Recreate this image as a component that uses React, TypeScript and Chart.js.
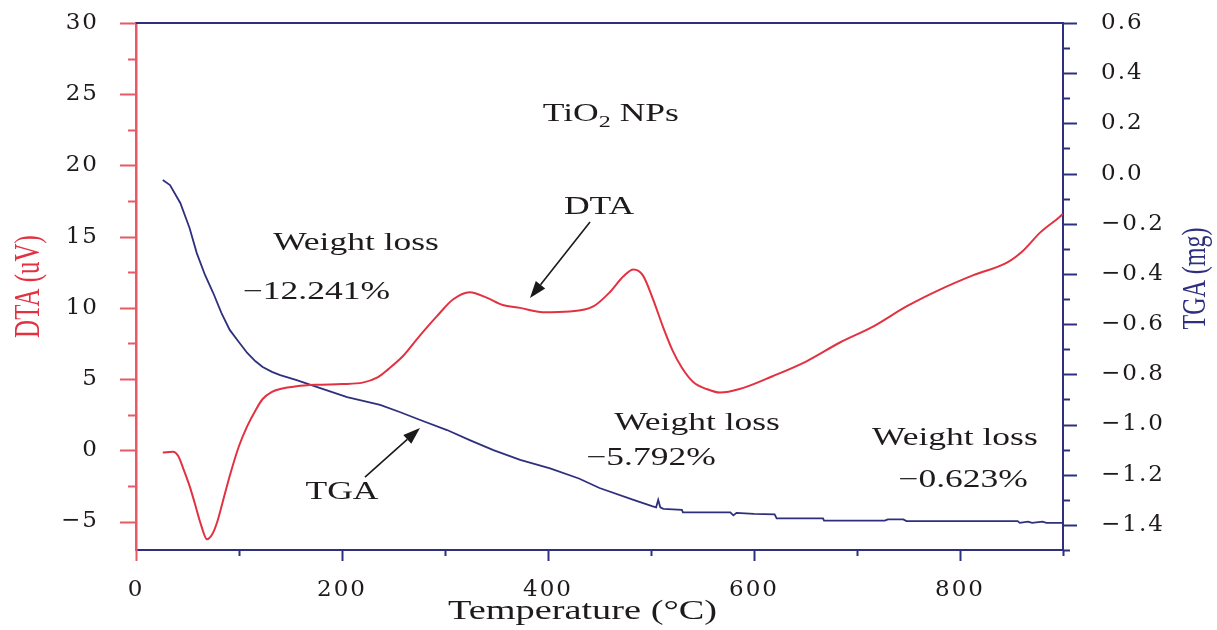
import React, { useEffect, useRef } from 'react';
import { Chart, registerables } from 'chart.js';

Chart.register(...registerables);

// ---- Data ----
const dtaTemp = [26, 36, 41, 46, 52, 57, 63, 69, 74, 79, 85, 91, 100, 108, 116, 123, 132, 140, 156, 175, 200, 220, 234, 245, 259, 275, 292, 308, 324, 341, 356, 373, 395, 421, 444, 460, 473, 483, 492, 502, 512, 521, 530, 541, 554, 567, 586, 618, 651, 683, 716, 748, 781, 813, 846, 861, 878, 897, 900];
const dtaValue = [-0.15, -0.1, -0.4, -1.3, -2.5, -3.7, -5.2, -6.25, -5.9, -5.0, -3.4, -1.8, 0.3, 1.7, 2.8, 3.6, 4.1, 4.3, 4.5, 4.6, 4.65, 4.75, 5.1, 5.7, 6.6, 8.0, 9.4, 10.6, 11.1, 10.7, 10.2, 10.0, 9.7, 9.75, 10.1, 11.1, 12.2, 12.7, 12.3, 10.6, 8.6, 7.0, 5.8, 4.8, 4.3, 4.05, 4.3, 5.2, 6.25, 7.55, 8.7, 10.1, 11.3, 12.3, 13.2, 14.0, 15.3, 16.4, 16.6];

const tgaTemp = [26, 33, 43, 52, 59, 67, 75, 83, 91, 100, 108, 116, 123, 132, 140, 156, 176, 205, 237, 256, 276, 302, 324, 347, 373, 402, 430, 450, 483, 501, 505, 507, 509, 512, 530, 531, 577, 580, 583, 600, 620, 622, 667, 668, 727, 730, 745, 748, 856, 858, 866, 870, 880, 884, 900];
const tgaValue = [-0.026, -0.046, -0.117, -0.217, -0.317, -0.404, -0.476, -0.556, -0.623, -0.672, -0.715, -0.748, -0.771, -0.79, -0.803, -0.823, -0.851, -0.891, -0.922, -0.95, -0.982, -1.022, -1.062, -1.102, -1.141, -1.175, -1.215, -1.253, -1.3, -1.325, -1.33, -1.3, -1.33, -1.336, -1.34, -1.35, -1.35, -1.362, -1.352, -1.356, -1.358, -1.374, -1.374, -1.383, -1.383, -1.378, -1.378, -1.385, -1.385, -1.392, -1.387, -1.392, -1.387, -1.392, -1.392];

// Axis ranges
const xRange = [0, 900];
const dtaRange = [-7, 30];
const tgaRange = [-1.5, 0.6];

// Annotation texts (placed in data coordinates: x = temperature, y = DTA axis)
const noteTexts = ['Weight loss', '\u221212.241%', 'Weight loss', '\u22125.792%', 'Weight loss', '\u22120.623%', 'DTA', 'TGA'];
const noteX = [213.6, 175.2, 544.7, 500, 795, 803, 449.5, 200];
const noteY = [14.55, 11.11, 1.88, -0.54, 0.86, -2.09, 17.08, -2.93];
const arrowFrom = [[440.8, 16.03], [222.3, -1.88]];
const arrowTo = [[382.5, 10.69], [275.7, 1.56]];
const sampleTitlePos = [461, 23.68];

const RED = 'rgb(226, 50, 66)';
const RED_AXIS = 'rgb(232, 88, 102)';
const NAVY = 'rgb(46, 48, 126)';
const TEXT = '#1f1b1c';
const SERIF = '"Liberation Serif", "Times New Roman", serif';
const TICK_FONT = '"DejaVu Serif", serif';
const TICK_SPACING = '2px';
const SX = 1.42;

const minus = (s: string) => s.replace('-', '\u2212');

function drawStretched(ctx: any, text: string, x: number, y: number, size: number, color: string) {
  ctx.save();
  ctx.translate(x, y);
  ctx.scale(SX, 1);
  ctx.font = `${size}px ${SERIF}`;
  ctx.fillStyle = color;
  ctx.textAlign = 'center';
  ctx.textBaseline = 'middle';
  ctx.fillText(text, 0, 0);
  ctx.restore();
}

function drawArrow(ctx: any, x1: number, y1: number, x2: number, y2: number) {
  const ang = Math.atan2(y2 - y1, x2 - x1);
  const hl = 17, hw = 6;
  const bx = x2 - hl * Math.cos(ang), by = y2 - hl * Math.sin(ang);
  ctx.save();
  ctx.strokeStyle = '#1a1a1a';
  ctx.fillStyle = '#1a1a1a';
  ctx.lineWidth = 1.6;
  ctx.beginPath();
  ctx.moveTo(x1, y1);
  ctx.lineTo(bx, by);
  ctx.stroke();
  ctx.beginPath();
  ctx.moveTo(x2, y2);
  ctx.lineTo(bx + hw * Math.sin(ang), by - hw * Math.cos(ang));
  ctx.lineTo(bx - hw * Math.sin(ang), by + hw * Math.cos(ang));
  ctx.closePath();
  ctx.fill();
  ctx.restore();
}

const zeroPad = (s: any) => { s.paddingTop = 0; s.paddingBottom = 0; s.paddingLeft = 0; s.paddingRight = 0; };

const decorPlugin = {
  id: 'decor',
  beforeLayout(chart: any) { chart.ctx.letterSpacing = TICK_SPACING; },
  beforeDraw(chart: any) { chart.ctx.letterSpacing = TICK_SPACING; },
  afterDraw(chart: any) {
    const ctx = chart.ctx;
    const { left, right, top, bottom } = chart.chartArea;
    const xs = chart.scales.x, ys = chart.scales.y, y1 = chart.scales.y1;
    ctx.save();
    ctx.letterSpacing = '0px';
    ctx.lineCap = 'butt';

    const line = (ax: number, ay: number, bx: number, by: number, color: string, w: number) => {
      ctx.strokeStyle = color; ctx.lineWidth = w;
      ctx.beginPath(); ctx.moveTo(ax, ay); ctx.lineTo(bx, by); ctx.stroke();
    };

    // top frame
    line(left - 1, top, right + 1, top, NAVY, 2);

    // left ticks (major every 5, minor every 2.5)
    ys.ticks.forEach((t: any) => {
      const q = t.value / 2.5;
      if (Math.abs(q - Math.round(q)) > 1e-6) return;
      const major = Math.abs(t.value / 5 - Math.round(t.value / 5)) < 1e-6;
      const py = Math.round(ys.getPixelForValue(t.value)) + 0.5;
      line(left, py, left - (major ? 16 : 8), py, RED_AXIS, 2);
    });
    // right ticks (major every 0.2, minor every 0.1)
    y1.ticks.forEach((t: any) => {
      const k = Math.round(t.value * 10);
      const major = k % 2 === 0;
      const py = Math.round(y1.getPixelForValue(t.value)) + 0.5;
      line(right, py, right + (major ? 14 : 7), py, NAVY, 2);
    });
    // bottom ticks
    xs.ticks.forEach((t: any) => {
      const major = Math.round(t.value) % 200 === 0;
      const px = Math.round(xs.getPixelForValue(t.value)) + 0.5;
      line(px, bottom, px, bottom + (major ? 11 : 6), t.value === 0 ? RED_AXIS : NAVY, 2);
    });

    // axis titles
    ctx.save();
    ctx.translate(30, (top + bottom) / 2);
    ctx.rotate(-Math.PI / 2);
    ctx.scale(1, SX);
    ctx.font = `25px ${SERIF}`;
    ctx.fillStyle = RED;
    ctx.textAlign = 'center';
    ctx.textBaseline = 'middle';
    ctx.fillText('DTA (uV)', 0, 0);
    ctx.restore();

    ctx.save();
    ctx.translate(1196, (top + bottom) / 2 - 8);
    ctx.rotate(-Math.PI / 2);
    ctx.scale(1, SX);
    ctx.font = `24px ${SERIF}`;
    ctx.fillStyle = NAVY;
    ctx.textAlign = 'center';
    ctx.textBaseline = 'middle';
    ctx.fillText('TGA (mg)', 0, 0);
    ctx.restore();

    drawStretched(ctx, 'Temperature (\u00B0C)', (left + right) / 2 - 17, 612, 27, TEXT);

    // annotations
    noteTexts.forEach((txt, i) => {
      drawStretched(ctx, txt, xs.getPixelForValue(noteX[i]), ys.getPixelForValue(noteY[i]), 25, TEXT);
    });

    // sample title: TiO2 NPs with subscript
    {
      const cx = xs.getPixelForValue(sampleTitlePos[0]);
      const cy = ys.getPixelForValue(sampleTitlePos[1]);
      ctx.save();
      ctx.fillStyle = TEXT;
      ctx.textBaseline = 'alphabetic';
      ctx.textAlign = 'left';
      const big = `25px ${SERIF}`, small = `17px ${SERIF}`;
      ctx.font = big;
      const w1 = ctx.measureText('TiO').width;
      const w3 = ctx.measureText(' NPs').width;
      ctx.font = small;
      const w2 = ctx.measureText('2').width;
      const total = (w1 + w2 + w3) * SX;
      ctx.translate(cx - total / 2, cy + 8);
      ctx.scale(SX, 1);
      ctx.font = big;
      ctx.fillText('TiO', 0, 0);
      ctx.font = small;
      ctx.fillText('2', w1, 6);
      ctx.font = big;
      ctx.fillText(' NPs', w1 + w2, 0);
      ctx.restore();
    }

    // arrows
    arrowFrom.forEach((f, i) => {
      const t = arrowTo[i];
      drawArrow(ctx, xs.getPixelForValue(f[0]), ys.getPixelForValue(f[1]), xs.getPixelForValue(t[0]), ys.getPixelForValue(t[1]));
    });

    ctx.restore();
  },
};

export default function App() {
  const canvasRef = useRef<HTMLCanvasElement | null>(null);

  useEffect(() => {
    const canvas = canvasRef.current;
    if (!canvas) return;
    const chart = new Chart(canvas, {
      type: 'line',
      data: {
        datasets: [
          {
            label: 'DTA',
            data: dtaTemp.map((t, i) => ({ x: t, y: dtaValue[i] })),
            yAxisID: 'y',
            borderColor: RED,
            borderWidth: 2,
            pointRadius: 0,
            cubicInterpolationMode: 'monotone',
            fill: false,
          },
          {
            label: 'TGA',
            data: tgaTemp.map((t, i) => ({ x: t, y: tgaValue[i] })),
            yAxisID: 'y1',
            borderColor: NAVY,
            borderWidth: 1.8,
            pointRadius: 0,
            tension: 0,
            fill: false,
          },
        ],
      },
      options: {
        animation: false,
        responsive: true,
        maintainAspectRatio: false,
        devicePixelRatio: 1,
        layout: { padding: { top: 23, left: 0, right: 0, bottom: 0 } },
        plugins: { legend: { display: false }, tooltip: { enabled: false } },
        scales: {
          x: {
            type: 'linear',
            position: 'bottom',
            min: xRange[0],
            max: xRange[1],
            grid: { display: false },
            border: { display: true, color: NAVY, width: 2 },
            ticks: {
              stepSize: 100,
              autoSkip: false,
              maxRotation: 0,
              padding: 18,
              color: TEXT,
              font: { family: TICK_FONT, size: 23 },
              callback: (v: any) => (Math.round(v) % 200 === 0 ? String(v) : ''),
            },
            afterFit: (s: any) => { s.height = 80; zeroPad(s); },
          },
          y: {
            type: 'linear',
            position: 'left',
            min: dtaRange[0],
            max: dtaRange[1],
            grid: { display: false },
            border: { display: true, color: RED_AXIS, width: 2.5 },
            ticks: {
              stepSize: 2.5,
              autoSkip: false,
              padding: 29,
              color: TEXT,
              font: { family: TICK_FONT, size: 23 },
              callback: (v: any) => (Math.abs(v / 5 - Math.round(v / 5)) < 1e-6 ? minus(String(Math.round(v))) : ''),
            },
            afterFit: (s: any) => { s.width = 136; zeroPad(s); },
          },
          y1: {
            type: 'linear',
            position: 'right',
            min: tgaRange[0],
            max: tgaRange[1],
            grid: { display: false },
            border: { display: true, color: NAVY, width: 2 },
            ticks: {
              stepSize: 0.1,
              autoSkip: false,
              padding: 30,
              color: TEXT,
              font: { family: TICK_FONT, size: 23 },
              callback: (v: any) => {
                const k = Math.round(v * 10);
                if (k % 2 !== 0 || k < -14) return '';
                if (k === 0) return '0.0';
                return minus((k / 10).toFixed(1));
              },
            },
            afterFit: (s: any) => { s.width = 154; zeroPad(s); },
          },
        },
      },
      plugins: [decorPlugin],
    } as any);
    return () => chart.destroy();
  }, []);

  return (
    <div style={{ position: 'fixed', left: 0, top: 0, width: 1217, height: 630, background: '#fff' }}>
      <canvas ref={canvasRef} />
    </div>
  );
}
